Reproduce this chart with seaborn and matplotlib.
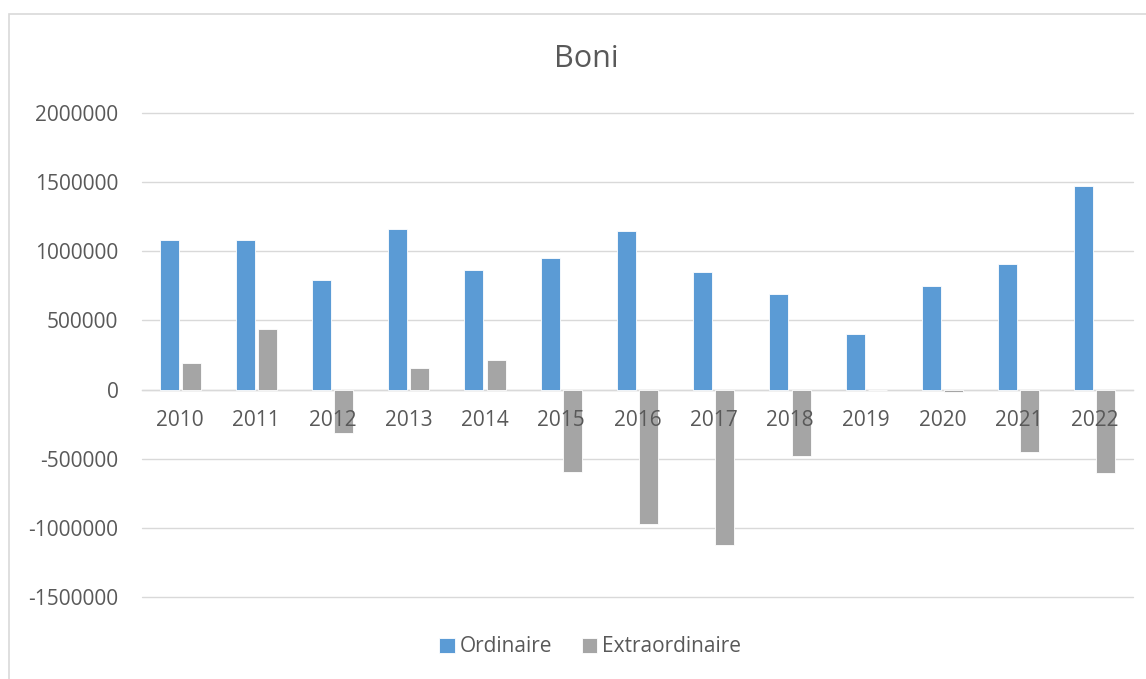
import pandas as pd
import seaborn as sns
import matplotlib.pyplot as plt
from matplotlib.patches import Rectangle

years = ['2010', '2011', '2012', '2013', '2014', '2015', '2016',
         '2017', '2018', '2019', '2020', '2021', '2022']
ordinaire = [1085000, 1078000, 793000, 1162000, 867000, 952000, 1145000,
             853000, 688000, 404000, 751000, 909000, 1474000]
extraordinaire = [191000, 440000, -315000, 155000, 215000, -599000, -973000,
                  -1126000, -478000, 0, -15000, -451000, -604000]
series = ['Ordinaire', 'Extraordinaire']
colors = ['#5B9BD5', '#A5A5A5']
yticks = [-1500000, -1000000, -500000, 0, 500000, 1000000, 1500000, 2000000]

df = pd.DataFrame({
    'year': years * 2,
    'value': ordinaire + extraordinaire,
    'serie': [series[0]] * len(years) + [series[1]] * len(years),
})

sns.set_theme(style='white')
plt.rcParams['font.family'] = ['Open Sans', 'DejaVu Sans']
txt = '#595959'
grid = '#D9D9D9'

fig = plt.figure(figsize=(11.46, 6.79), dpi=100)
ax = fig.add_axes([142 / 1146, 1 - 597 / 679, (1133 - 142) / 1146, (597 - 113) / 679])

sns.barplot(data=df, x='year', y='value', hue='serie', order=years,
            hue_order=series, palette=colors, width=0.58, gap=0.14,
            errorbar=None, saturation=1, ax=ax, zorder=2,
            edgecolor='white', linewidth=0.6)

ax.set_ylim(-1500000, 2000000)
ax.set_yticks(yticks)
ax.set_yticklabels([str(v) for v in yticks])
ax.set_xlim(-0.5, len(years) - 0.5)
# gridlines as plain lines so the year labels can sit above the bars
for v in yticks:
    ax.axhline(v, color=grid, lw=1.0, zorder=0, clip_on=False)
for s in ['top', 'right', 'left']:
    ax.spines[s].set_visible(False)
ax.spines['bottom'].set_position(('data', 0))
ax.spines['bottom'].set_color(grid)
ax.spines['bottom'].set_linewidth(1.0)
ax.spines['bottom'].set_zorder(0)
ax.xaxis.set_zorder(3)
ax.tick_params(axis='x', length=0, pad=15, labelsize=15, labelcolor=txt)
ax.tick_params(axis='y', length=0, pad=17, labelsize=15, labelcolor=txt)
ax.set_xlabel('')
ax.set_ylabel('')

handles, labels = ax.get_legend_handles_labels()
ax.get_legend().remove()
fig.legend(handles, labels, loc='center', bbox_to_anchor=(0.515, 1 - 647 / 679),
           ncol=2, frameon=False, fontsize=15, labelcolor=txt,
           handlelength=0.75, handleheight=0.75, handletextpad=0.25,
           columnspacing=1.4)

fig.text(586 / 1146, 1 - 59 / 679, 'Boni', ha='center', va='center',
         fontsize=22, color=txt)

fig.add_artist(Rectangle((9 / 1146, -0.05), 1.2, 1 - 14 / 679 + 0.05,
                         transform=fig.transFigure, fill=False,
                         edgecolor=grid, lw=1.2))

fig.savefig('out.png', dpi=100, facecolor='white')
